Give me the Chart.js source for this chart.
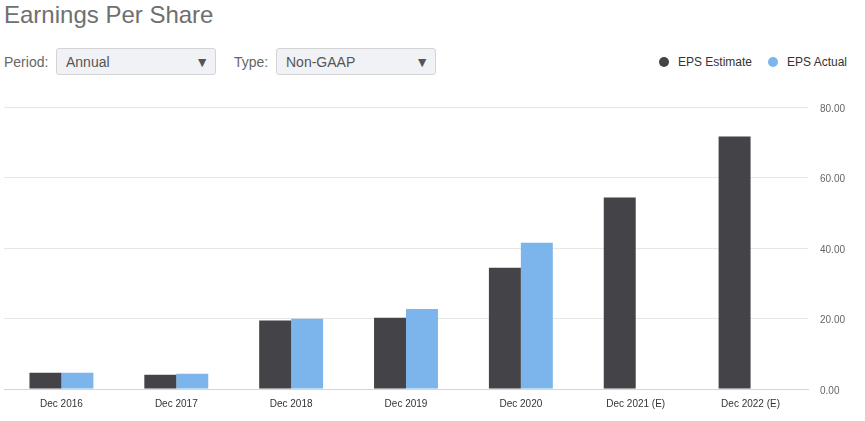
<!DOCTYPE html>
<html>
<head>
<meta charset="utf-8">
<script src="https://cdn.jsdelivr.net/npm/chart.js@4/dist/chart.umd.min.js"></script>
<style>
  html, body { margin: 0; padding: 0; background: #fff; }
  body { width: 865px; height: 421px; position: relative; overflow: hidden; font-family: "Liberation Sans", Arial, sans-serif; }
  #title { position: absolute; left: 4px; top: 1px; font-size: 24px; color: #6f6f6f; white-space: nowrap; }
  .lbl { position: absolute; top: 54px; font-size: 14px; color: #666; }
  .sel { position: absolute; top: 48px; height: 27px; border: 1px solid #d4d4d4; border-radius: 3px; background: #f1f2f5; box-sizing: border-box; font-size: 14px; color: #555; line-height: 26px; padding-left: 9px; }
  .sel .arr { position: absolute; right: 6px; top: 0; font-size: 14px; color: #555; }
  .leg { position: absolute; top: 55px; font-size: 12px; color: #333; white-space: nowrap; }
  .dot { position: absolute; top: 57px; width: 10px; height: 10px; border-radius: 50%; }
  #wrap { position: absolute; left: 0; top: 0; width: 865px; height: 421px; }
</style>
</head>
<body>
<div id="title">Earnings Per Share</div>
<div class="lbl" style="left:4px">Period:</div>
<div class="sel" style="left:56px;width:160px">Annual<span class="arr">&#9660;</span></div>
<div class="lbl" style="left:234px">Type:</div>
<div class="sel" style="left:276px;width:160px">Non-GAAP<span class="arr">&#9660;</span></div>
<div class="dot" style="left:659px;background:#434348"></div>
<div class="leg" style="left:678px">EPS Estimate</div>
<div class="dot" style="left:768px;background:#7cb5ec"></div>
<div class="leg" style="left:787px">EPS Actual</div>
<div id="wrap"><canvas id="c" width="865" height="421"></canvas></div>
<script>
const categories = ["Dec 2016", "Dec 2017", "Dec 2018", "Dec 2019", "Dec 2020", "Dec 2021 (E)", "Dec 2022 (E)"];
const epsEstimate = [4.63, 4.06, 19.4, 20.2, 34.4, 54.3, 71.6];
const epsActual = [4.63, 4.35, 19.9, 22.7, 41.5, null, null];
const yTicks = [0, 20, 40, 60, 80];

new Chart(document.getElementById('c'), {
  type: 'bar',
  data: {
    labels: categories,
    datasets: [
      { label: 'EPS Estimate', data: epsEstimate, backgroundColor: '#434348', categoryPercentage: 0.5565, barPercentage: 1.0 },
      { label: 'EPS Actual', data: epsActual, backgroundColor: '#7cb5ec', categoryPercentage: 0.5565, barPercentage: 1.0 }
    ]
  },
  options: {
    responsive: false,
    animation: false,
    layout: { padding: { top: 107, left: 4, right: 0, bottom: 0 } },
    plugins: { legend: { display: false }, tooltip: { enabled: false } },
    scales: {
      x: {
        grid: { display: false, drawTicks: false },
        border: { display: true, color: '#ccd6eb', width: 1 },
        ticks: { color: '#333', font: { family: 'Liberation Sans', size: 10 }, padding: 9, maxRotation: 0 },
        afterFit: (s) => { s.height = 32; }
      },
      y: {
        position: 'right',
        min: 0, max: 80,
        afterBuildTicks: (s) => { s.ticks = yTicks.map(v => ({ value: v })); },
        grid: { color: (ctx) => ctx.tick && ctx.tick.value === 0 ? '#ccd6eb' : '#e6e6e6', drawTicks: false },
        border: { display: false },
        ticks: { color: '#666', font: { family: 'Liberation Sans', size: 10 }, padding: 12, labelOffset: 2, callback: (v) => Number(v).toFixed(2) },
        afterFit: (s) => { s.width = 57; }
      }
    }
  }
});
</script>
</body>
</html>
